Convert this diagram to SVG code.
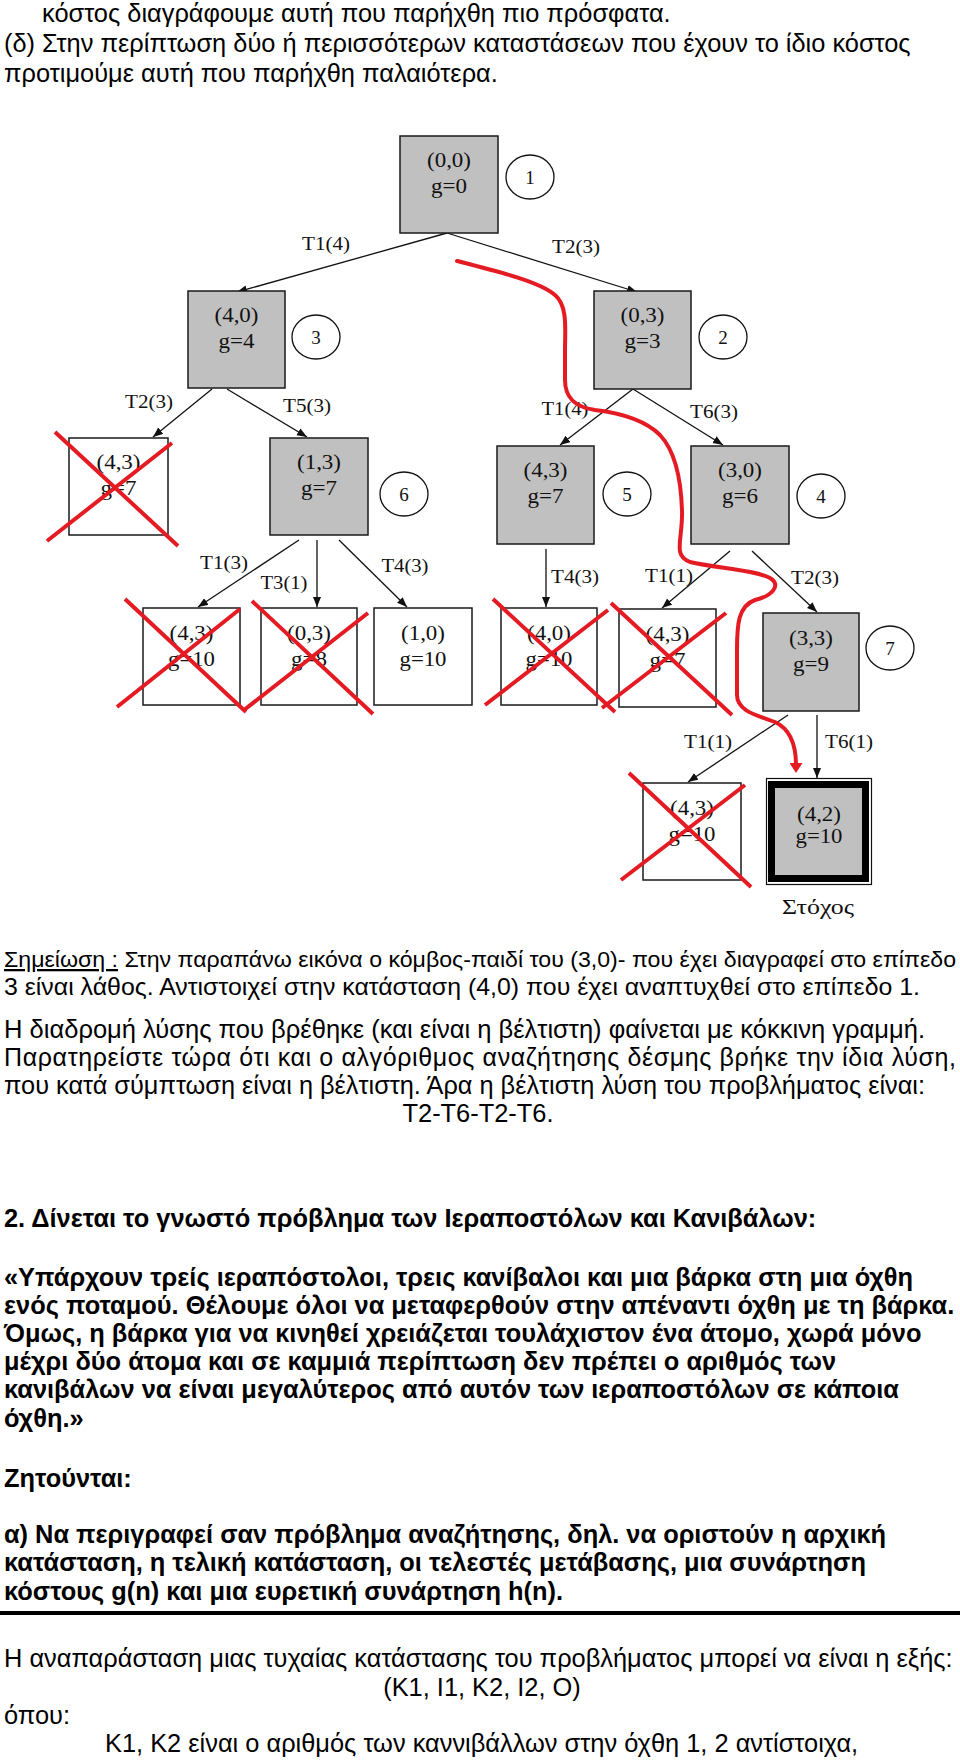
<svg xmlns="http://www.w3.org/2000/svg" width="960" height="1761" viewBox="0 0 960 1761">
<style>
.g{fill:#c0c0c0;stroke:#1a1a1a;stroke-width:1.5}
.w{fill:#fff;stroke:#1a1a1a;stroke-width:1.5}
.nt{font-family:"Liberation Serif","Times New Roman",serif;font-size:20px;fill:#111;text-anchor:middle}
.lb{font-family:"Liberation Serif","Times New Roman",serif;font-size:19px;fill:#111;text-anchor:middle}
.cn{font-family:"Liberation Serif","Times New Roman",serif;font-size:19px;fill:#111;text-anchor:middle}
.ci{fill:#fff;stroke:#111;stroke-width:1.3}
.e{stroke:#111;stroke-width:1.3;fill:none;marker-end:url(#ah)}
.x{stroke:#e41b23;stroke-width:4;fill:none}
.rp{stroke:#e41b23;stroke-width:4;fill:none;stroke-linecap:round;marker-end:url(#rh)}
.t{font-family:"Liberation Sans",Arial,sans-serif;font-size:25.4px;fill:#000}
.b{font-weight:bold}
</style>
<defs>
<marker id="ah" markerUnits="userSpaceOnUse" markerWidth="11" markerHeight="9" refX="10" refY="4" orient="auto"><path d="M0,0 L10,4 L0,8 z" fill="#111"/></marker>
<marker id="rh" markerUnits="userSpaceOnUse" markerWidth="11" markerHeight="13" refX="2" refY="6.5" orient="auto"><path d="M0,0 L10,6.5 L0,13 z" fill="#e41b23"/></marker>
</defs>
<rect width="960" height="1761" fill="#fff"/>

<g id="text-top" class="t">
<text x="42" y="22">κόστος διαγράφουμε αυτή που παρήχθη πιο πρόσφατα.</text>
<text x="4" y="52">(δ) Στην περίπτωση δύο ή περισσότερων καταστάσεων που έχουν το ίδιο κόστος</text>
<text x="4" y="82">προτιμούμε αυτή που παρήχθη παλαιότερα.</text>
</g>

<g id="connectors">
<line class="e" x1="447" y1="233" x2="237" y2="292"/>
<line class="e" x1="447" y1="233" x2="637" y2="292"/>
<line class="e" x1="212" y1="389" x2="153" y2="437"/>
<line class="e" x1="227" y1="389" x2="307" y2="437"/>
<line class="e" x1="633" y1="389" x2="560" y2="445"/>
<line class="e" x1="633" y1="389" x2="723" y2="445"/>
<line class="e" x1="299" y1="540" x2="198" y2="607"/>
<line class="e" x1="317" y1="540" x2="317" y2="607"/>
<line class="e" x1="339" y1="540" x2="407" y2="607"/>
<line class="e" x1="546" y1="549" x2="546" y2="607"/>
<line class="e" x1="730" y1="551" x2="662" y2="608"/>
<line class="e" x1="752" y1="551" x2="817" y2="612"/>
<line class="e" x1="788" y1="715" x2="688" y2="782"/>
<line class="e" x1="817" y1="715" x2="817" y2="778"/>
<text class="lb" x="326" y="250" textLength="48" lengthAdjust="spacingAndGlyphs">T1(4)</text>
<text class="lb" x="576" y="253" textLength="48" lengthAdjust="spacingAndGlyphs">T2(3)</text>
<text class="lb" x="149" y="408" textLength="48" lengthAdjust="spacingAndGlyphs">T2(3)</text>
<text class="lb" x="307" y="412" textLength="48" lengthAdjust="spacingAndGlyphs">T5(3)</text>
<text class="lb" x="565" y="415" textLength="47" lengthAdjust="spacingAndGlyphs">T1(4)</text>
<text class="lb" x="714" y="418" textLength="48" lengthAdjust="spacingAndGlyphs">T6(3)</text>
<text class="lb" x="224" y="569" textLength="48" lengthAdjust="spacingAndGlyphs">T1(3)</text>
<text class="lb" x="284" y="589" textLength="47" lengthAdjust="spacingAndGlyphs">T3(1)</text>
<text class="lb" x="405" y="572" textLength="47" lengthAdjust="spacingAndGlyphs">T4(3)</text>
<text class="lb" x="575" y="583" textLength="48" lengthAdjust="spacingAndGlyphs">T4(3)</text>
<text class="lb" x="669" y="582" textLength="48" lengthAdjust="spacingAndGlyphs">T1(1)</text>
<text class="lb" x="815" y="584" textLength="48" lengthAdjust="spacingAndGlyphs">T2(3)</text>
<text class="lb" x="708" y="748" textLength="48" lengthAdjust="spacingAndGlyphs">T1(1)</text>
<text class="lb" x="849" y="748" textLength="48" lengthAdjust="spacingAndGlyphs">T6(1)</text>
</g>

<g id="n1">
<rect class="g" x="400" y="136" width="98" height="97"/>
<text class="nt" x="449" y="167" textLength="44" lengthAdjust="spacingAndGlyphs">(0,0)</text>
<text class="nt" x="449" y="193" textLength="36" lengthAdjust="spacingAndGlyphs">g=0</text>
<ellipse class="ci" cx="530" cy="177" rx="24" ry="22"/><text class="cn" x="530" y="184">1</text>
</g>
<g id="n2">
<rect class="g" x="188" y="291" width="97" height="97"/>
<text class="nt" x="236.5" y="322" textLength="44" lengthAdjust="spacingAndGlyphs">(4,0)</text>
<text class="nt" x="236.5" y="348" textLength="36" lengthAdjust="spacingAndGlyphs">g=4</text>
<ellipse class="ci" cx="316" cy="337" rx="24" ry="22"/><text class="cn" x="316" y="344">3</text>
</g>
<g id="n3">
<rect class="g" x="594" y="291" width="97" height="98"/>
<text class="nt" x="642.5" y="322" textLength="44" lengthAdjust="spacingAndGlyphs">(0,3)</text>
<text class="nt" x="642.5" y="348" textLength="36" lengthAdjust="spacingAndGlyphs">g=3</text>
<ellipse class="ci" cx="723" cy="337" rx="24" ry="22"/><text class="cn" x="723" y="344">2</text>
</g>
<g id="n4">
<rect class="w" x="69" y="438" width="99" height="97"/>
<text class="nt" x="118.5" y="469" textLength="44" lengthAdjust="spacingAndGlyphs">(4,3)</text>
<text class="nt" x="118.5" y="495" textLength="36" lengthAdjust="spacingAndGlyphs">g=7</text>
</g>
<g id="n5">
<rect class="g" x="270" y="438" width="98" height="97"/>
<text class="nt" x="319" y="469" textLength="44" lengthAdjust="spacingAndGlyphs">(1,3)</text>
<text class="nt" x="319" y="495" textLength="36" lengthAdjust="spacingAndGlyphs">g=7</text>
<ellipse class="ci" cx="404" cy="494" rx="24" ry="22"/><text class="cn" x="404" y="501">6</text>
</g>
<g id="n6">
<rect class="g" x="497" y="446" width="97" height="98"/>
<text class="nt" x="545.5" y="477" textLength="44" lengthAdjust="spacingAndGlyphs">(4,3)</text>
<text class="nt" x="545.5" y="503" textLength="36" lengthAdjust="spacingAndGlyphs">g=7</text>
<ellipse class="ci" cx="627" cy="494" rx="24" ry="22"/><text class="cn" x="627" y="501">5</text>
</g>
<g id="n7">
<rect class="g" x="691" y="446" width="98" height="98"/>
<text class="nt" x="740" y="477" textLength="44" lengthAdjust="spacingAndGlyphs">(3,0)</text>
<text class="nt" x="740" y="503" textLength="36" lengthAdjust="spacingAndGlyphs">g=6</text>
<ellipse class="ci" cx="821" cy="496" rx="24" ry="22"/><text class="cn" x="821" y="503">4</text>
</g>
<g id="n8">
<rect class="w" x="143" y="608" width="97" height="97"/>
<text class="nt" x="191.5" y="640" textLength="44" lengthAdjust="spacingAndGlyphs">(4,3)</text>
<text class="nt" x="191.5" y="666" textLength="47" lengthAdjust="spacingAndGlyphs">g=10</text>
</g>
<g id="n9">
<rect class="w" x="261" y="608" width="96" height="97"/>
<text class="nt" x="309" y="640" textLength="44" lengthAdjust="spacingAndGlyphs">(0,3)</text>
<text class="nt" x="309" y="666" textLength="36" lengthAdjust="spacingAndGlyphs">g=8</text>
</g>
<g id="n10">
<rect class="w" x="374" y="608" width="98" height="97"/>
<text class="nt" x="423" y="640" textLength="44" lengthAdjust="spacingAndGlyphs">(1,0)</text>
<text class="nt" x="423" y="666" textLength="47" lengthAdjust="spacingAndGlyphs">g=10</text>
</g>
<g id="n11">
<rect class="w" x="501" y="608" width="96" height="97"/>
<text class="nt" x="549" y="640" textLength="44" lengthAdjust="spacingAndGlyphs">(4,0)</text>
<text class="nt" x="549" y="666" textLength="47" lengthAdjust="spacingAndGlyphs">g=10</text>
</g>
<g id="n12">
<rect class="w" x="619" y="609" width="97" height="98"/>
<text class="nt" x="667.5" y="641" textLength="44" lengthAdjust="spacingAndGlyphs">(4,3)</text>
<text class="nt" x="667.5" y="667" textLength="36" lengthAdjust="spacingAndGlyphs">g=7</text>
</g>
<g id="n13">
<rect class="g" x="763" y="613" width="96" height="98"/>
<text class="nt" x="811" y="645" textLength="44" lengthAdjust="spacingAndGlyphs">(3,3)</text>
<text class="nt" x="811" y="671" textLength="36" lengthAdjust="spacingAndGlyphs">g=9</text>
<ellipse class="ci" cx="890" cy="648" rx="24" ry="22"/><text class="cn" x="890" y="655">7</text>
</g>
<g id="n14">
<rect class="w" x="643" y="783" width="98" height="97"/>
<text class="nt" x="692" y="815" textLength="44" lengthAdjust="spacingAndGlyphs">(4,3)</text>
<text class="nt" x="692" y="841" textLength="47" lengthAdjust="spacingAndGlyphs">g=10</text>
</g>
<g id="n15">
<rect x="766.5" y="778.5" width="105" height="106" fill="#fff" stroke="#111" stroke-width="1.2"/>
<rect x="771.5" y="784.5" width="94" height="94" fill="#c0c0c0" stroke="#000" stroke-width="7"/>
<text class="nt" x="819" y="821" textLength="44" lengthAdjust="spacingAndGlyphs">(4,2)</text>
<text class="nt" x="819" y="843" textLength="47" lengthAdjust="spacingAndGlyphs">g=10</text>
<text class="nt" x="818" y="914" style="font-size:22px" textLength="72" lengthAdjust="spacingAndGlyphs">Στόχος</text>
</g>

<g id="annotations">
<path class="x" d="M55,432 L178,546 M172,443 L47,541"/>
<path class="x" d="M125,599 L246,712 M240,609 L117,707"/>
<path class="x" d="M252,601 L373,714 M368,613 L244,710"/>
<path class="x" d="M493,599 L615,712 M608,610 L485,705"/>
<path class="x" d="M611,603 L732,715 M726,613 L602,708"/>
<path class="x" d="M629,773 L751,887 M745,785 L621,880"/>
<path class="rp" d="M457,261 C500,272 540,282 555,295 C568,306 565,330 565,350 L565,380 C565,398 575,407 595,410 C620,413 645,420 660,435 C676,452 681,480 682,510 C683,540 672,555 690,562 C715,568 755,570 770,578 C782,585 772,596 755,600 C738,606 737,625 737,650 L737,695 C737,712 760,716 775,722 C792,730 796,748 796,765"/>
</g>

<g id="text-bottom" class="t">
<text x="4" y="967" style="font-size:22.8px" textLength="952" lengthAdjust="spacingAndGlyphs"><tspan text-decoration="underline">Σημείωση :</tspan> Στην παραπάνω εικόνα ο κόμβος-παιδί του (3,0)- που έχει διαγραφεί στο επίπεδο</text>
<text x="4" y="995" style="font-size:24px" textLength="916" lengthAdjust="spacingAndGlyphs">3 είναι λάθος. Αντιστοιχεί στην κατάσταση (4,0) που έχει αναπτυχθεί στο επίπεδο 1.</text>
<text x="4" y="1038" textLength="921" lengthAdjust="spacingAndGlyphs">Η διαδρομή λύσης που βρέθηκε (και είναι η βέλτιστη) φαίνεται με κόκκινη γραμμή.</text>
<text x="4" y="1066" style="font-size:25px" textLength="952" lengthAdjust="spacing">Παρατηρείστε τώρα ότι και ο αλγόριθμος αναζήτησης δέσμης βρήκε την ίδια λύση,</text>
<text x="4" y="1094" textLength="921" lengthAdjust="spacingAndGlyphs">που κατά σύμπτωση είναι η βέλτιστη. Άρα η βέλτιστη λύση του προβλήματος είναι:</text>
<text x="478" y="1122" text-anchor="middle">T2-T6-T2-T6.</text>
<text class="b" x="4" y="1227">2. Δίνεται το γνωστό πρόβλημα των Ιεραποστόλων και Κανιβάλων:</text>
<text class="b" x="4" y="1286">«Υπάρχουν τρείς ιεραπόστολοι, τρεις κανίβαλοι και μια βάρκα στη μια όχθη</text>
<text class="b" x="4" y="1314">ενός ποταμού. Θέλουμε όλοι να μεταφερθούν στην απέναντι όχθη με τη βάρκα.</text>
<text class="b" x="4" y="1342">Όμως, η βάρκα για να κινηθεί χρειάζεται τουλάχιστον ένα άτομο, χωρά μόνο</text>
<text class="b" x="4" y="1370">μέχρι δύο άτομα και σε καμμιά περίπτωση δεν πρέπει ο αριθμός των</text>
<text class="b" x="4" y="1398">κανιβάλων να είναι μεγαλύτερος από αυτόν των ιεραποστόλων σε κάποια</text>
<text class="b" x="4" y="1427">όχθη.»</text>
<text class="b" x="4" y="1487">Ζητούνται:</text>
<text class="b" x="4" y="1543">α) Να περιγραφεί σαν πρόβλημα αναζήτησης, δηλ. να οριστούν η αρχική</text>
<text class="b" x="4" y="1571">κατάσταση, η τελική κατάσταση, οι τελεστές μετάβασης, μια συνάρτηση</text>
<text class="b" x="4" y="1600">κόστους g(n) και μια ευρετική συνάρτηση h(n).</text>
<text x="4" y="1667">Η αναπαράσταση μιας τυχαίας κατάστασης του προβλήματος μπορεί να είναι η εξής:</text>
<text x="482" y="1696" text-anchor="middle">(K1, I1, K2, I2, O)</text>
<text x="4" y="1724">όπου:</text>
<text x="105" y="1752">K1, K2 είναι ο αριθμός των καννιβάλλων στην όχθη 1, 2 αντίστοιχα,</text>
</g>
<rect id="rule" x="0" y="1611" width="960" height="4" fill="#000"/>
</svg>
